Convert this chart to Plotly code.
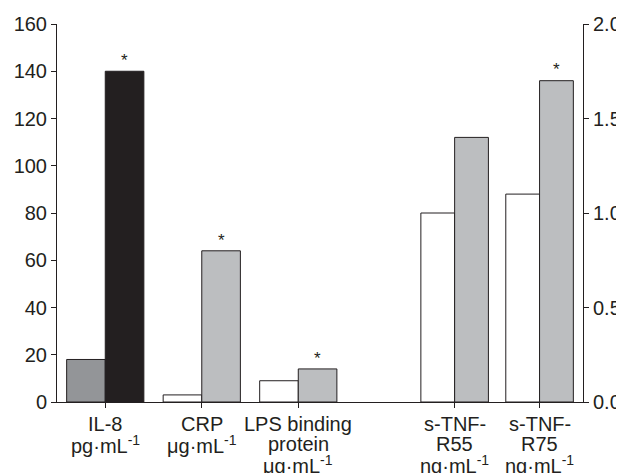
import plotly.graph_objects as go

# ---- data ----
left_labels = [["IL-8", "pg·mL<sup>-1</sup>"],
               ["CRP", "μg·mL<sup>-1</sup>"],
               ["LPS binding", "protein", "μg·mL<sup>-1</sup>"]]
left_pos = [0.5, 1.5, 2.5]
left_before = [18, 3, 9]
left_after = [140, 64, 14]
left_sig = [True, True, True]

right_labels = [["s-TNF-", "R55", "ng·mL<sup>-1</sup>"],
                ["s-TNF-", "R75", "ng·mL<sup>-1</sup>"]]
right_pos = [4.12, 5.0]
right_before = [1.0, 1.1]
right_after = [1.4, 1.7]
right_sig = [False, True]

left_ticks = [0, 20, 40, 60, 80, 100, 120, 140, 160]
right_ticks = [0.0, 0.5, 1.0, 1.5, 2.0]

# ---- style ----
INK = "#231f20"
before_colors_left = ["#939598", "#ffffff", "#ffffff"]
after_colors_left = [INK, "#bcbec0", "#bcbec0"]
W_L = 0.40
W_R = 0.35
FONT = "Liberation Sans, Arial, sans-serif"
TICK_SIZE = 20
LABEL_SIZE = 20
LINE_STEP = 20.6
FIRST_LINE = 21.5

fig = go.Figure()
line = dict(color=INK, width=1)
fig.add_trace(go.Bar(x=left_pos, y=left_before, width=W_L, offset=-W_L,
                     marker=dict(color=before_colors_left, line=line), yaxis="y"))
fig.add_trace(go.Bar(x=left_pos, y=left_after, width=W_L, offset=0,
                     marker=dict(color=after_colors_left, line=line), yaxis="y"))
fig.add_trace(go.Bar(x=right_pos, y=right_before, width=W_R, offset=-W_R,
                     marker=dict(color="#ffffff", line=line), yaxis="y2"))
fig.add_trace(go.Bar(x=right_pos, y=right_after, width=W_R, offset=0,
                     marker=dict(color="#bcbec0", line=line), yaxis="y2"))

ann = []
for p, v, s in zip(left_pos, left_after, left_sig):
    if s:
        ann.append(dict(x=p + W_L / 2, y=v, xref="x", yref="y", text="*", showarrow=False,
                        yanchor="bottom", yshift=-1, font=dict(size=17, color=INK, family=FONT)))
for p, v, s in zip(right_pos, right_after, right_sig):
    if s:
        ann.append(dict(x=p + W_R / 2, y=v, xref="x", yref="y2", text="*",
                        showarrow=False, yanchor="bottom", yshift=0,
                        font=dict(size=17, color=INK, family=FONT)))

# category labels (multi-line, tight leading)
for p, lines in zip(left_pos + right_pos, left_labels + right_labels):
    for i, t in enumerate(lines):
        ann.append(dict(x=p, y=0, xref="x", yref="paper", text=t, showarrow=False,
                        xanchor="center", yanchor="middle",
                        yshift=-(FIRST_LINE + LINE_STEP * i),
                        font=dict(size=LABEL_SIZE, color=INK, family=FONT)))

axis_common = dict(showgrid=False, zeroline=False, showline=True, linecolor=INK, linewidth=1,
                   ticks="outside", ticklen=5, tickcolor=INK, tickwidth=1, automargin=False,
                   tickfont=dict(size=TICK_SIZE, color=INK, family=FONT))

fig.update_layout(
    width=616, height=465,
    margin=dict(l=49, r=41, t=16, b=71),
    paper_bgcolor="white", plot_bgcolor="white",
    showlegend=False, barmode="overlay",
    font=dict(family=FONT, color=INK),
    xaxis=dict(range=[0, 5.45], tickvals=left_pos + right_pos, showticklabels=False,
               **axis_common),
    yaxis=dict(range=[0, 160], tickvals=left_ticks, **axis_common),
    yaxis2=dict(range=[0, 2.0], tickvals=right_ticks, tickformat=".1f",
                overlaying="y", side="right", **axis_common),
    annotations=ann,
)
fig.write_html("out.html")
